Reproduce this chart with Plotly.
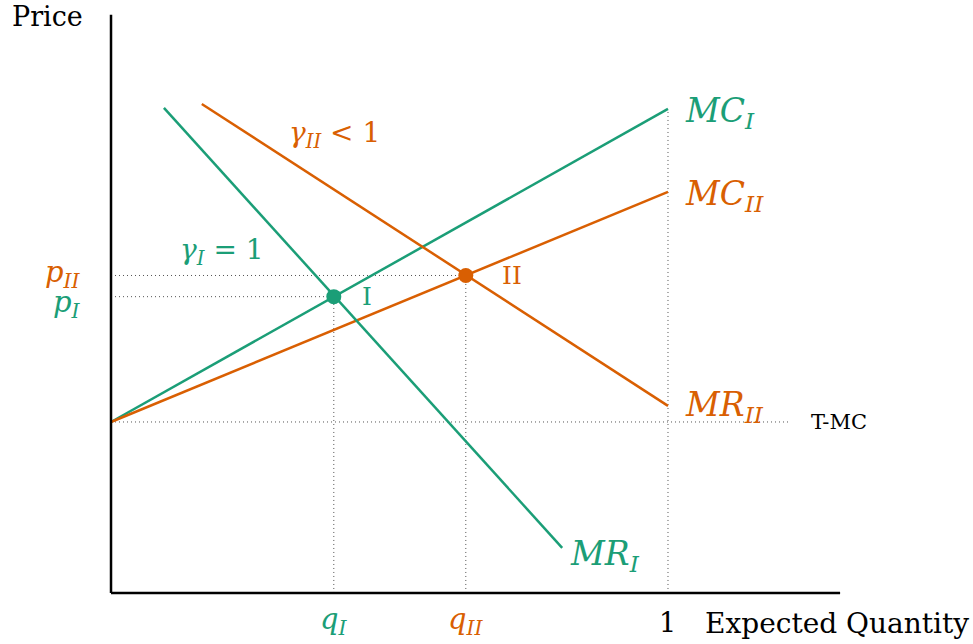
import plotly.graph_objects as go

# Colours (ColorBrewer Dark2)
GREEN = "#1b9e77"
ORANGE = "#d95f02"
DOT = "#555555"

# Model values (quantity normalised so that capacity = 1)
t_mc = 0.307                       # marginal cost at zero quantity (T-MC)
mc_I_x = [0.0, 1.0]
mc_I_y = [0.307, 0.869]
mc_II_x = [0.0, 1.0]
mc_II_y = [0.307, 0.720]
mr_I_x = [0.095, 0.810]
mr_I_y = [0.871, 0.081]
mr_II_x = [0.163, 1.0]
mr_II_y = [0.878, 0.336]

# Equilibria
q_I, p_I = 0.400, 0.532
q_II, p_II = 0.637, 0.570

x_axis_end = 1.309
y_axis_top = 1.038
t_mc_end = 1.219

SERIF = "DejaVu Serif"

fig = go.Figure()

# Curves
fig.add_trace(go.Scatter(x=mc_I_x, y=mc_I_y, mode="lines", line=dict(color=GREEN, width=2.5)))
fig.add_trace(go.Scatter(x=mc_II_x, y=mc_II_y, mode="lines", line=dict(color=ORANGE, width=2.5)))
fig.add_trace(go.Scatter(x=mr_I_x, y=mr_I_y, mode="lines", line=dict(color=GREEN, width=2.5)))
fig.add_trace(go.Scatter(x=mr_II_x, y=mr_II_y, mode="lines", line=dict(color=ORANGE, width=2.5)))

# Guide lines (dotted)
dot = dict(color=DOT, width=1, dash="1px,3px")
guides = [
    (0, p_II, q_II, p_II),
    (0, p_I, q_I, p_I),
    (q_I, 0, q_I, p_I),
    (q_II, 0, q_II, p_II),
    (1.0, 0, 1.0, mc_I_y[1]),
    (0, t_mc, t_mc_end, t_mc),
]
for x0, y0, x1, y1 in guides:
    fig.add_shape(type="line", x0=x0, y0=y0, x1=x1, y1=y1, line=dot, layer="below")

# Axes
fig.add_shape(type="line", x0=0, y0=0, x1=x_axis_end, y1=0, line=dict(color="black", width=2.5))
fig.add_shape(type="line", x0=0, y0=0, x1=0, y1=y_axis_top, line=dict(color="black", width=2.5))

# Equilibrium points
fig.add_trace(go.Scatter(x=[q_I], y=[p_I], mode="markers", marker=dict(color=GREEN, size=15)))
fig.add_trace(go.Scatter(x=[q_II], y=[p_II], mode="markers", marker=dict(color=ORANGE, size=15)))

def label(text, x, y, color, size, xanchor="center", yanchor="middle", xshift=0, yshift=0):
    fig.add_annotation(x=x, y=y, text=text, showarrow=False, xanchor=xanchor, yanchor=yanchor,
                       xshift=xshift, yshift=yshift,
                       font=dict(family=SERIF, size=size, color=color))

# Curve labels
label("<i>MC</i><sub><i>I</i></sub>", 1.0, mc_I_y[1], GREEN, 33, xanchor="left", xshift=15, yshift=-4)
label("<i>MC</i><sub><i>II</i></sub>", 1.0, mc_II_y[1], ORANGE, 33, xanchor="left", xshift=15, yshift=-4)
label("<i>MR</i><sub><i>II</i></sub>", 1.0, mr_II_y[1], ORANGE, 33, xanchor="left", xshift=15, yshift=-1)
label("<i>MR</i><sub><i>I</i></sub>", mr_I_x[1], mr_I_y[1], GREEN, 33, xanchor="left", xshift=6, yshift=-8)
label("T-MC", t_mc_end, t_mc, "black", 21, xanchor="left", xshift=19)
label("<i>γ</i><sub><i>II</i></sub> &lt; 1", 0.402, 0.828, ORANGE, 28, yshift=-3)
label("<i>γ</i><sub><i>I</i></sub> = 1", 0.199, 0.619, GREEN, 28, yshift=-3)
label("I", q_I, p_I, GREEN, 25, xanchor="left", xshift=26)
label("II", q_II, p_II, ORANGE, 25, xanchor="left", xshift=34)

# Axis tick labels
label("<i>p</i><sub><i>II</i></sub>", 0, p_II, ORANGE, 29, xanchor="right", xshift=-28, yshift=1)
label("<i>p</i><sub><i>I</i></sub>", 0, p_I, GREEN, 29, xanchor="right", xshift=-28, yshift=-7)
label("<i>q</i><sub><i>I</i></sub>", q_I, 0, GREEN, 29, yshift=-28)
label("<i>q</i><sub><i>II</i></sub>", q_II, 0, ORANGE, 29, yshift=-28)
label("1", 1.0, 0, "black", 27, yshift=-30)
label("Expected Quantity", 1.0, 0, "black", 28, xanchor="left", xshift=35, yshift=-31)
label("Price", 0, y_axis_top, "black", 27, xshift=-64, yshift=-2)

fig.update_layout(
    width=973, height=644,
    margin=dict(l=0, r=0, t=0, b=0),
    paper_bgcolor="white", plot_bgcolor="white",
    showlegend=False,
    xaxis=dict(range=[-0.1993, 1.5476], visible=False, fixedrange=True),
    yaxis=dict(range=[-0.0916, 1.0646], visible=False, fixedrange=True),
)

fig.write_html("out.html")
